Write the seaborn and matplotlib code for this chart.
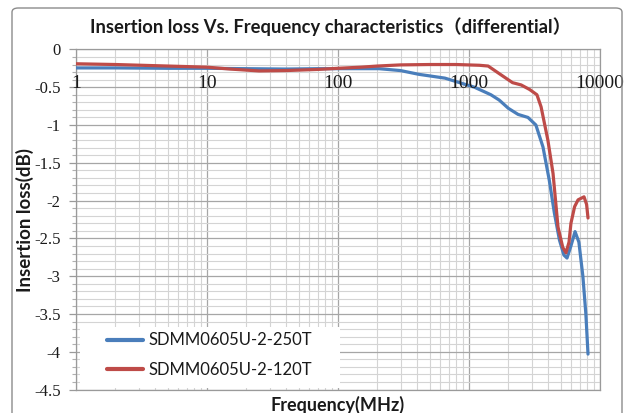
import numpy as np
import pandas as pd
import matplotlib
matplotlib.use("Agg")
import matplotlib.pyplot as plt
import seaborn as sns
from matplotlib.patches import FancyBboxPatch, Rectangle
from matplotlib.ticker import FixedLocator, MultipleLocator, NullFormatter

# ---- data ----
series_names = ["SDMM0605U-2-250T", "SDMM0605U-2-120T"]
freq_250 = [1, 2, 5, 10, 20, 40, 70, 100, 150, 205, 300, 415, 655, 1100, 1470, 1700, 2000, 2370,
            2820, 3240, 3670, 4100, 4480, 4900, 5300, 5600, 6000, 6450, 6900, 7400, 7800, 8100]
loss_250 = [-0.245, -0.245, -0.25, -0.25, -0.255, -0.26, -0.255, -0.255, -0.255, -0.255, -0.28, -0.33,
            -0.38, -0.5, -0.6, -0.67, -0.78, -0.86, -0.9, -1.0, -1.29, -1.73, -2.16, -2.52, -2.72,
            -2.76, -2.6, -2.41, -2.55, -3.0, -3.5, -4.03]
freq_120 = [1, 2, 5, 10, 15, 25, 40, 70, 100, 150, 200, 300, 500, 800, 1200, 1400, 1700, 2150,
            2500, 2900, 3300, 3550, 4000, 4380, 4780, 5200, 5500, 5800, 6000, 6400, 6800, 7550,
            7900, 8100]
loss_120 = [-0.19, -0.2, -0.22, -0.235, -0.26, -0.285, -0.28, -0.265, -0.25, -0.235, -0.22, -0.205,
            -0.2, -0.2, -0.21, -0.22, -0.32, -0.44, -0.47, -0.53, -0.6, -0.76, -1.2, -1.64, -2.35,
            -2.62, -2.69, -2.55, -2.3, -2.08, -1.99, -1.95, -2.05, -2.23]
x_ticks = [1, 10, 100, 1000, 10000]
x_tick_labels = ["1", "10", "100", "1000", "10000"]
y_ticks = [0, -0.5, -1, -1.5, -2, -2.5, -3, -3.5, -4, -4.5]
y_tick_labels = ["0", "-0.5", "-1", "-1.5", "-2", "-2.5", "-3", "-3.5", "-4", "-4.5"]
colors = ["#4A7EBB", "#BE4B48"]

df = pd.concat([
    pd.DataFrame({"freq": freq_250, "loss": loss_250, "series": series_names[0]}),
    pd.DataFrame({"freq": freq_120, "loss": loss_120, "series": series_names[1]}),
])

sns.set_theme(style="white")
plt.rcParams["font.family"] = ["Lato", "Noto Sans CJK SC", "DejaVu Sans"]

fig = plt.figure(figsize=(6.32, 4.13), dpi=100)
fig.patch.set_facecolor("white")
W, H = 632, 413
ax = fig.add_axes([76 / W, 1 - 389.6 / H, (600 - 76) / W, (389.6 - 49.4) / H])
AW, AH = 600 - 76, 389.6 - 49.4

# outer chart border
border = FancyBboxPatch((12 / W, -0.05), (622 - 12) / W, 1 - 8 / H + 0.05,
                        boxstyle="round,pad=0,rounding_size=0.01",
                        transform=fig.transFigure, facecolor="none",
                        edgecolor="#8c8c8c", linewidth=1.0, zorder=0)
fig.patches.append(border)

sns.lineplot(data=df, x="freq", y="loss", hue="series", palette=colors,
             hue_order=series_names, linewidth=2.3, sort=False, estimator=None,
             ax=ax, zorder=3)

ax.set_xscale("log")
ax.set_xlim(1, 10000)
ax.set_ylim(-4.5, 0)

ax.xaxis.set_major_locator(FixedLocator(x_ticks))
ax.xaxis.set_major_formatter(NullFormatter())
ax.xaxis.set_minor_locator(FixedLocator([m * d for d in [1, 10, 100, 1000] for m in range(2, 10)]))
ax.xaxis.set_minor_formatter(NullFormatter())
ax.set_yticks(y_ticks)
ax.set_yticklabels(y_tick_labels)
ax.yaxis.set_minor_locator(MultipleLocator(0.1))

ax.grid(which="major", color="#a6a6a6", linewidth=0.9)
ax.grid(which="minor", color="#d4d4d4", linewidth=0.8)
ax.set_axisbelow(True)

for s in ax.spines.values():
    s.set_color("#9a9a9a")
    s.set_linewidth(0.9)

ax.tick_params(axis="x", which="both", bottom=False, top=False, labelbottom=False, labeltop=False)
ax.tick_params(axis="y", which="major", left=True, length=5, width=0.9, color="#9a9a9a",
               pad=6, labelsize=12, labelfontfamily="Liberation Serif", labelcolor="#1a1a1a")
ax.tick_params(axis="y", which="minor", left=True, length=3, width=0.8, color="#b0b0b0")

# x tick labels sit just below the top axis (Excel style, axis crossing at 0)
for xv, lab in zip(x_ticks, x_tick_labels):
    ax.text(xv, (389.6 - 83) / AH, lab, transform=ax.get_xaxis_transform(),
            ha="center", va="center", fontsize=14, family="Liberation Serif",
            color="#1a1a1a", zorder=4)

ax.set_xlabel("")
ax.set_ylabel("")
fig.text(338 / W, 1 - 405 / H, "Frequency(MHz)", ha="center", va="center",
         fontsize=13, fontweight="bold", color="#1a1a1a")
fig.text(25 / W, 1 - 220 / H, "Insertion loss(dB)", ha="center", va="center",
         rotation=90, fontsize=13.5, fontweight="bold", color="#1a1a1a")
fig.text(331 / W, 1 - 27 / H, "Insertion loss Vs. Frequency characteristics（differential）",
         ha="center", va="center", fontsize=13.2, fontweight="bold", color="#1a1a1a")

# white legend area covering the grid
ax.add_patch(Rectangle(((80 - 76) / AW, (389.6 - 388) / AH), 260 / AW, 61 / AH,
                       transform=ax.transAxes, facecolor="white", edgecolor="none",
                       zorder=2.5))
leg = ax.legend(loc="center left", bbox_to_anchor=((107 - 76) / AW, (389.6 - 355) / AH),
                borderaxespad=0, borderpad=0, frameon=False, fontsize=12,
                handlelength=2.15, labelspacing=0.8, handletextpad=0.36)
for line in leg.get_lines():
    line.set_linewidth(3)
for t in leg.get_texts():
    t.set_color("#1a1a1a")

fig.savefig("out.png", dpi=100)
